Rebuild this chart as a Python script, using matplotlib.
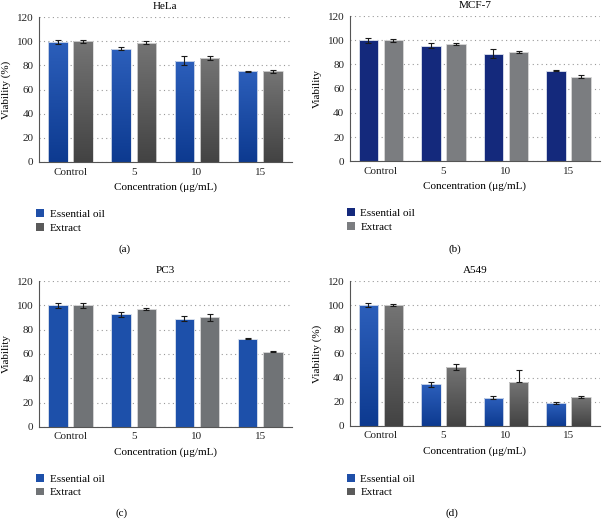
import numpy as np
import matplotlib
matplotlib.use('Agg')
import matplotlib.pyplot as plt
from matplotlib.patches import Patch

plt.rcParams['font.family'] = ['Liberation Serif', 'DejaVu Serif']
plt.rcParams['font.size'] = 7.5

categories = ['Control', '5', '10', '15']
series_names = ['Essential oil', 'Extract']

# HeLa
hela_oil = [99.5, 94, 84, 75]
hela_oil_err = [1.5, 1.5, 4, 0.5]
hela_ext = [100, 99, 86, 75]
hela_ext_err = [1, 1.3, 1.5, 1.3]

# MCF-7
mcf_oil = [100, 95.5, 89, 75]
mcf_oil_err = [2, 2, 4, 0.5]
mcf_ext = [100, 97, 90.5, 70]
mcf_ext_err = [1, 1, 1, 1]

# PC3
pc3_oil = [100, 92.5, 89, 72.5]
pc3_oil_err = [2, 2, 2, 0.4]
pc3_ext = [100, 97, 90, 62]
pc3_ext_err = [2, 1, 2.5, 0.5]

# A549
a549_oil = [100, 34.5, 23.5, 19]
a549_oil_err = [1.5, 2, 1.5, 0.5]
a549_ext = [100, 49, 36, 24]
a549_ext_err_low = [1, 2.5, 0, 0.5]
a549_ext_err_high = [1, 2.5, 10, 0.5]

panels = [
    dict(title='HeLa', tag='(a)', ylabel='Viability (%)',
         oil=hela_oil, oil_err=hela_oil_err, ext=hela_ext, ext_err=hela_ext_err,
         oil_col=('#2c5fbb', '#0d3a90'), ext_col=('#747474', '#434343'),
         rect=[0.0646, 0.6885, 0.4184, 0.2785], leg_y=0.571, tag_pos=(0.207, 0.515)),
    dict(title='MCF-7', tag='(b)', ylabel='Viability',
         oil=mcf_oil, oil_err=mcf_oil_err, ext=mcf_ext, ext_err=mcf_ext_err,
         oil_col=('#14297c', '#14297c'), ext_col=('#7b7d80', '#7b7d80'),
         rect=[0.579, 0.690, 0.414, 0.279], leg_y=0.573, tag_pos=(0.753, 0.515)),
    dict(title='PC3', tag='(c)', ylabel='Viability',
         oil=pc3_oil, oil_err=pc3_oil_err, ext=pc3_ext, ext_err=pc3_ext_err,
         oil_col=('#1d50aa', '#1d50aa'), ext_col=('#707376', '#707376'),
         rect=[0.0646, 0.179, 0.4184, 0.2806], leg_y=0.062, tag_pos=(0.202, 0.008)),
    dict(title='A549', tag='(d)', ylabel='Viability (%)',
         oil=a549_oil, oil_err=a549_oil_err, ext=a549_ext,
         ext_err=[a549_ext_err_low, a549_ext_err_high],
         oil_col=('#2c5fbb', '#0d3a90'), ext_col=('#747474', '#434343'),
         rect=[0.579, 0.181, 0.414, 0.2786], leg_y=0.062, tag_pos=(0.748, 0.008)),
]


def gradient_bars(ax, bars, top_col, bot_col):
    c1 = np.array(matplotlib.colors.to_rgb(top_col))
    c2 = np.array(matplotlib.colors.to_rgb(bot_col))
    t = np.linspace(0, 1, 64)[:, None]
    img = (c1 * (1 - t) + c2 * t)[:, None, :]
    for b in bars:
        x0, y0 = b.get_x(), b.get_y()
        w, h = b.get_width(), b.get_height()
        im = ax.imshow(img, extent=[x0, x0 + w, y0, y0 + h], aspect='auto',
                       origin='upper', zorder=2)
        im.set_clip_path(b)
        b.set_facecolor('none')


fig = plt.figure(figsize=(6.04, 5.2), dpi=100)
x = np.arange(len(categories))
w = 0.31
off = 0.2

for p in panels:
    ax = fig.add_axes(p['rect'])
    b1 = ax.bar(x - off, p['oil'], w, color=p['oil_col'][0], edgecolor='#dde3ee',
                linewidth=0.6, zorder=2)
    b2 = ax.bar(x + off, p['ext'], w, color=p['ext_col'][0], edgecolor='#d8d8d8',
                linewidth=0.6, zorder=2)
    if p['oil_col'][0] != p['oil_col'][1]:
        gradient_bars(ax, b1, *p['oil_col'])
        gradient_bars(ax, b2, *p['ext_col'])
        for b in list(b1) + list(b2):
            b.set_zorder(3)
    ax.errorbar(x - off, p['oil'], yerr=p['oil_err'], fmt='none', ecolor='#1a1a1a',
                elinewidth=0.8, capsize=2.2, capthick=0.8, zorder=4)
    ax.errorbar(x + off, p['ext'], yerr=p['ext_err'], fmt='none', ecolor='#1a1a1a',
                elinewidth=0.8, capsize=2.2, capthick=0.8, zorder=4)

    ax.set_xlim(-0.5, 3.5)
    ax.set_ylim(0, 120)
    ax.set_yticks(range(0, 121, 20))
    ax.set_xticks(x)
    ax.set_xticklabels(categories)
    ax.tick_params(length=0, pad=4, labelsize=8, colors='#222222')
    ax.yaxis.grid(True, linestyle=(0, (1, 3)), color='#999999', linewidth=0.8)
    ax.set_axisbelow(True)
    for s in ['top', 'right']:
        ax.spines[s].set_visible(False)
    ax.spines['left'].set_color('#555555')
    ax.spines['bottom'].set_color('#555555')
    ax.spines['left'].set_linewidth(0.8)
    ax.spines['bottom'].set_linewidth(0.8)
    ax.set_title(p['title'], fontsize=8, pad=6)
    ax.set_xlabel('Concentration (μg/mL)', fontsize=8, labelpad=4)
    ax.set_ylabel(p['ylabel'], fontsize=8, labelpad=4)

    handles = [Patch(facecolor=p['oil_col'][1] if p['oil_col'][0] == p['oil_col'][1] else '#1f4fa8'),
               Patch(facecolor=p['ext_col'][1] if p['ext_col'][0] == p['ext_col'][1] else '#5a5a5a')]
    fig.legend(handles, series_names, loc='upper left',
               bbox_to_anchor=(p['rect'][0] - 0.012, p['leg_y'] + 0.035),
               frameon=False, fontsize=8, handlelength=0.7, handleheight=0.7,
               handletextpad=0.5, labelspacing=0.35, borderaxespad=0)
    fig.text(p['tag_pos'][0], p['tag_pos'][1], p['tag'], fontsize=8, ha='center')

fig.savefig('out.png', dpi=100)
